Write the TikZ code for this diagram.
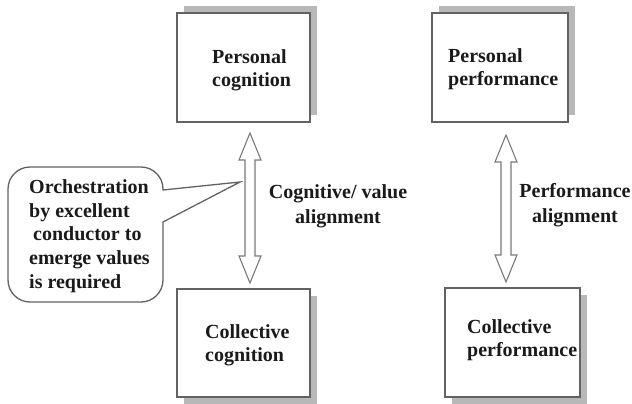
\documentclass[tikz,border=0pt]{standalone}
\usepackage{fontspec}
\setmainfont{Liberation Serif}
\usetikzlibrary{calc,shadows}
\definecolor{boxline}{HTML}{626262}
\definecolor{shadowgrey}{HTML}{B8B8B8}
\definecolor{arrowgrey}{HTML}{7A7A7A}
\definecolor{inkblack}{HTML}{1A1A1A}
% hollow two-headed arrow between two tip coordinates (vertical)
\newcommand\hollowarrow[2]{%
  \draw[arrowline] let \p1=(#1), \p2=(#2) in
    (\p1) -- (\x1+11pt,\y1-27pt) -- (\x1+5pt,\y1-27pt) -- (\x2+5pt,\y2+27pt)
    -- (\x2+11pt,\y2+27pt) -- (\p2) -- (\x2-11pt,\y2+27pt) -- (\x2-5pt,\y2+27pt)
    -- (\x1-5pt,\y1-27pt) -- (\x1-11pt,\y1-27pt) -- cycle;}
\begin{document}
\begin{tikzpicture}[x=1pt,y=-1pt,
  box/.style={draw=boxline, line width=1.2pt, fill=white, inner sep=0pt, outer sep=0pt},
  upshadow/.style={general shadow={shadow xshift=7pt, shadow yshift=7pt, fill=shadowgrey, draw=none}},
  downshadow/.style={general shadow={shadow xshift=7pt, shadow yshift=-7pt, fill=shadowgrey, draw=none}},
  lbl/.style={inner sep=0pt, text=inkblack, font=\fontsize{20}{23}\selectfont\bfseries},
  arrowline/.style={draw=arrowgrey, line width=1.1pt, fill=white, line join=miter},
  calloutline/.style={draw=boxline, line width=1.3pt, fill=white}]
\useasboundingbox (0,0) rectangle (632,404);

% the four boxes
\node[box, upshadow, minimum width=133pt, minimum height=109pt] (pc) at (243.5,67.5) {};
\node[box, downshadow, minimum width=133pt, minimum height=108pt] (cc) at (243.5,343) {};
\node[box, upshadow, minimum width=136pt, minimum height=109pt] (pp) at (500,67.5) {};
\node[box, downshadow, minimum width=135pt, minimum height=109pt] (cp) at (512.5,342.5) {};

% box texts
\node[lbl, align=left, anchor=west] (pctext) at (212,69.9) {Personal\\cognition};
\node[lbl, align=left, anchor=west] (cctext) at (205,345.4) {Collective\\cognition};
\node[lbl, align=left, anchor=west] (pptext) at (448,68.9) {Personal\\performance};
\node[lbl, align=left, anchor=west] (cptext) at (467,340) {Collective\\performance};

% alignment arrows
\coordinate (a1top) at ($(pc.south)+(6.5,11)$);
\coordinate (a1bot) at ($(cc.north)+(6.5,-6)$);
\coordinate (a2top) at ($(pp.south)+(6,13)$);
\coordinate (a2bot) at ($(cp.north)+(-6.5,-6)$);
\hollowarrow{a1top}{a1bot}
\hollowarrow{a2top}{a2bot}

% arrow labels
\node[lbl, align=center, anchor=north, font=\fontsize{20}{25}\selectfont\bfseries] (cvlabel) at (338,184.2) {Cognitive/ value\\alignment};
\node[lbl, align=center, anchor=north, font=\fontsize{20}{25}\selectfont\bfseries] (palabel) at (575,183.2) {Performance\\alignment};

% speech-bubble note pointing at the left arrow
\coordinate (tip) at (240,182);
\draw[calloutline] (8,240) [rounded corners=22pt] -- (8,167) -- (163,167) [sharp corners] -- (163,190)
  -- (tip) -- (163,222) [rounded corners=22pt] -- (163,302) -- (8,302) -- cycle;
\node[lbl, align=left, anchor=north west, font=\fontsize{20}{23.75}\selectfont\bfseries] (note) at (29,179.2)
  {Orchestration\\by excellent\\\hspace*{4pt}conductor to\\emerge values\\is required};
\end{tikzpicture}
\end{document}
